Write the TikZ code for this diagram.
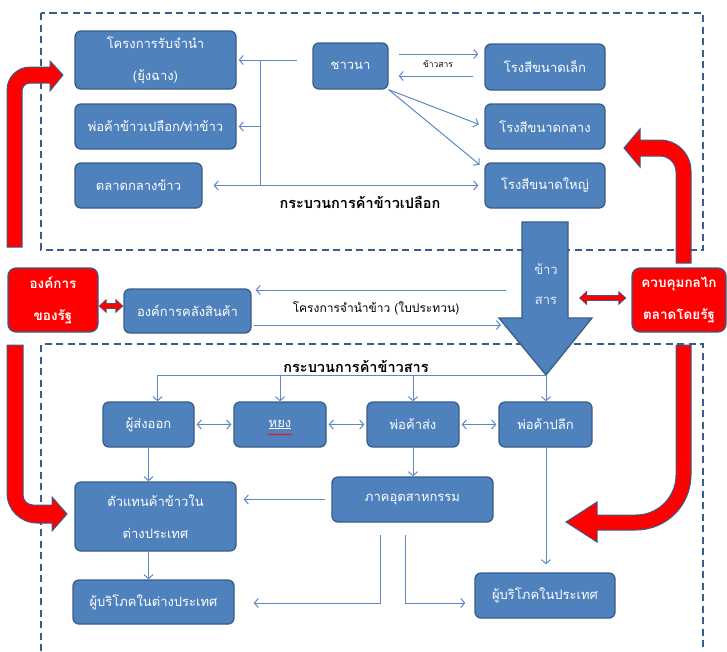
\documentclass[tikz,border=0pt]{standalone}
\usepackage{fontspec}
\newfontfamily\thai[Script=Thai]{Loma}
\usetikzlibrary{arrows.meta,calc,decorations.pathmorphing}
\definecolor{boxblue}{HTML}{4F81BD}
\definecolor{edge}{HTML}{385D8A}
\definecolor{conn}{HTML}{5A8AC6}
\begin{document}
\begin{tikzpicture}[x=1pt,y=-1pt,
 box/.style={rectangle,rounded corners=6pt,fill=boxblue,draw=edge,line width=1.3pt,text=white,align=center,inner sep=0pt,font=\thai\fontsize{13}{32}\selectfont},
 rbox/.style={box,fill=red,rounded corners=8pt,font=\thai\bfseries\fontsize{13.5}{32}\selectfont},
 ln/.style={draw=conn,line width=1pt},
 ar/.style={ln,-{Straight Barb[length=4pt,width=9pt]}},
 ar2/.style={ln,{Straight Barb[length=4pt,width=9pt]}-{Straight Barb[length=4pt,width=9pt]}},
 dbox/.style={draw=edge,line width=1.8pt,dash pattern=on 7pt off 4.5pt},
 lab/.style={font=\thai\bfseries\fontsize{14.5}{16}\selectfont,inner sep=0pt},
 redarrow/.style={fill=red,draw=edge,line width=1pt},
 rdo/.style={line width=6.5pt,draw=edge,{Triangle[length=8pt,width=14pt]}-{Triangle[length=8pt,width=14pt]}},
 rdi/.style={line width=4.5pt,draw=red,{Triangle[length=6.5pt,width=11pt]}-{Triangle[length=6.5pt,width=11pt]},shorten <=1pt,shorten >=1pt},
]
\useasboundingbox (0,0) rectangle (727,651);
% dashed frames
\draw[dbox] (41,13) rectangle (703,250);
\draw[dbox] (41,651) -- (41,344) -- (703,344) -- (703,651);

% red curved arrows
\filldraw[redarrow] (7,247) -- (7,90) .. controls (7,77.3) and (17.3,67) .. (30,67) -- (50,67) -- (50,61) -- (63,75) -- (50,91) -- (50,83) -- (30,83) .. controls (25.6,83) and (22,86.6) .. (22,91) -- (22,247) -- cycle;
\filldraw[redarrow] (7,345) -- (7,493) .. controls (7,509.6) and (20.4,523) .. (37,523) -- (52,523) -- (52,531) -- (67,514) -- (52,497) -- (52,505) -- (33,505) .. controls (27.5,505) and (23,500.5) .. (23,495) -- (23,345) -- cycle;
\filldraw[redarrow] (691,263) -- (691,171) .. controls (691,153.9) and (677.1,140) .. (660,140) -- (640,140) -- (640,129) -- (624,148) -- (640,167) -- (640,156) -- (660,156) .. controls (668.8,156) and (676,163.2) .. (676,172) -- (676,263) -- cycle;
\filldraw[redarrow] (691,345) -- (691,475) .. controls (691,505.4) and (666.4,530) .. (636,530) -- (597,530) -- (597,542) -- (566,522) -- (597,502) -- (597,515) -- (636,515) .. controls (658.1,515) and (676,497.1) .. (676,475) -- (676,345) -- cycle;

% big arrow
\filldraw[fill=boxblue,draw=edge,line width=1.3pt] (522,222) -- (568,222) -- (568,318) -- (592,318) -- (546,375) -- (499,318) -- (522,318) -- cycle;
\coordinate (tl) at (546,375);
\node[font=\thai\fontsize{13}{30}\selectfont,text=white!85!boxblue,align=center,inner sep=0pt] (bat) at (546,284) {ข้าว\\สาร};

% top section boxes
\node[box,minimum width=161pt,minimum height=58pt] (b1) at (155.5,60) {โครงการรับจำนำ\\(ยุ้งฉาง)};
\node[box,minimum width=161pt,minimum height=45pt] (b2) at (155.5,126.5) {พ่อค้าข้าวเปลือก/ท่าข้าว};
\node[box,minimum width=127pt,minimum height=45pt] (b3) at (138.5,185.5) {ตลาดกลางข้าว};
\node[box,minimum width=75pt,minimum height=46pt] (kn) at (350.5,66) {ชาวนา};
\node[box,minimum width=120pt,minimum height=46pt] (m1) at (545,67) {โรงสีขนาดเล็ก};
\node[box,minimum width=120pt,minimum height=45pt] (m2) at (545,126.5) {โรงสีขนาดกลาง};
\node[box,minimum width=120pt,minimum height=45pt] (m3) at (545,185.5) {โรงสีขนาดใหญ่};

% middle
\node[rbox,minimum width=90pt,minimum height=64pt] (rs) at (53,300) {องค์การ\\ของรัฐ};
\node[box,minimum width=127pt,minimum height=44pt] (wh) at (187.5,311) {องค์การคลังสินค้า};
\node[rbox,minimum width=94pt,minimum height=64pt] (ctl) at (679,300) {ควบคุมกลไก\\ตลาดโดยรัฐ};

% bottom section boxes
\node[box,minimum width=91pt,minimum height=45pt] (ex) at (148.5,424.5) {ผู้ส่งออก};
\node[box,minimum width=92pt,minimum height=45pt] (hy) at (280,424.5) {\underline{หยง}};
\node[box,minimum width=92pt,minimum height=45pt] (ws) at (413,424.5) {พ่อค้าส่ง};
\node[box,minimum width=93pt,minimum height=45pt] (rt) at (545.5,424.5) {พ่อค้าปลีก};
\node[box,minimum width=161pt,minimum height=69pt] (ag) at (155.5,516.5) {ตัวแทนค้าข้าวใน\\ต่างประเทศ};
\node[box,minimum width=161pt,minimum height=45pt] (ind) at (412.5,499.5) {ภาคอุตสาหกรรม};
\node[box,minimum width=161pt,minimum height=44pt] (cf) at (153.5,602) {ผู้บริโภคในต่างประเทศ};
\node[box,minimum width=140pt,minimum height=45pt] (cd) at (545,595.5) {ผู้บริโภคในประเทศ};
\draw[red,line width=0.6pt,decorate,decoration={snake,amplitude=0.7pt,segment length=3pt}] ($(hy.center)+(-12,10)$) -- ($(hy.center)+(12,10)$);

% labels
\node[lab] (l1) at (360,202) {กระบวนการค้าข้าวเปลือก};
\node[lab] (l2) at (356,366) {กระบวนการค้าข้าวสาร};
\node[font=\thai\fontsize{8.5}{10}\selectfont,inner sep=0pt] (l3) at (438,64) {ข้าวสาร};
\node[font=\thai\fontsize{12}{14}\selectfont,inner sep=0pt] (l4) at (376,308) {โครงการจำนำข้าว (ใบประทวน)};

% top connectors
\coordinate (kw) at (297,60);
\coordinate (vx) at (260,0);
\draw[ln] (vx |- kw) -- (kw);
\draw[ar,shorten >=2pt] (vx |- kw) -- (b1.east);
\draw[ln] (vx |- kw) -- (vx |- b3.east);
\draw[ar,shorten >=2pt] (vx |- b2.east) -- (b2.east);
\draw[ar2,shorten <=11pt,shorten >=6pt] (b3.east) -- (m3.west);
\draw[ar] ($(kn.east)+(10,-12)$) -- ($(m1.west)+(-6,-13)$);
\draw[ar] ($(m1.west)+(-11,9)$) -- ($(kn.east)+(10,10)$);
\draw[ar,shorten >=6pt] (kn.south east) -- (m2.west);
\draw[ar,shorten >=6pt] (kn.south east) -- ($(m3.west)+(0,-17)$);

% middle connectors
\coordinate (ba1) at (506,290);
\coordinate (ba2) at (501,325);
\draw[ar,shorten >=4pt] (ba1) -- (ba1 -| wh.east);
\draw[ar,shorten <=2pt] (ba2 -| wh.east) -- (ba2);
\coordinate (ry1) at (0,306);
\draw[rdo] (rs.east |- ry1) -- (wh.west |- ry1);
\draw[rdi] (rs.east |- ry1) -- (wh.west |- ry1);
\coordinate (ry2) at (579,298);
\draw[rdo,shorten >=5pt] (ry2) -- (ctl.west |- ry2);
\draw[rdi,shorten >=6pt] (ry2) -- (ctl.west |- ry2);

% bottom connectors
\coordinate (exn) at ($(ex.north)+(9,0)$);
\draw[ln] (exn |- tl) -- (tl);
\draw[ar] (exn |- tl) -- (exn);
\draw[ar] (hy.north |- tl) -- (hy.north);
\draw[ar] (ws.north |- tl) -- (ws.north);
\draw[ar] (tl) -- (tl |- rt.north);
\draw[ar2,shorten <=2pt,shorten >=2pt] (ex.east) -- (hy.west);
\draw[ar2,shorten <=2pt,shorten >=2pt] (hy.east) -- (ws.west);
\draw[ar2,shorten <=2pt,shorten >=2pt] (ws.east) -- (rt.west);
\draw[ar] (ex.south) -- (ex.south |- ag.north);
\draw[ar] (ex.south |- ag.south) -- (ex.south |- cf.north);
\draw[ar] (ws.south) -- (ws.south |- ind.north);
\draw[ar,shorten <=6pt,shorten >=7pt] (ind.west) -- (ag.east |- ind.west);
\coordinate (i1) at (380,535);
\coordinate (i2) at (405,535);
\coordinate (yb) at (0,603);
\draw[ar,shorten >=19pt] (i1) -- (i1 |- yb) -- (cf.east |- yb);
\draw[ar,shorten >=9pt] (i2) -- (i2 |- yb) -- (cd.west |- yb);
\draw[ar,shorten >=8pt] (rt.south -| tl) -- (tl |- cd.north);
\end{tikzpicture}
\end{document}
